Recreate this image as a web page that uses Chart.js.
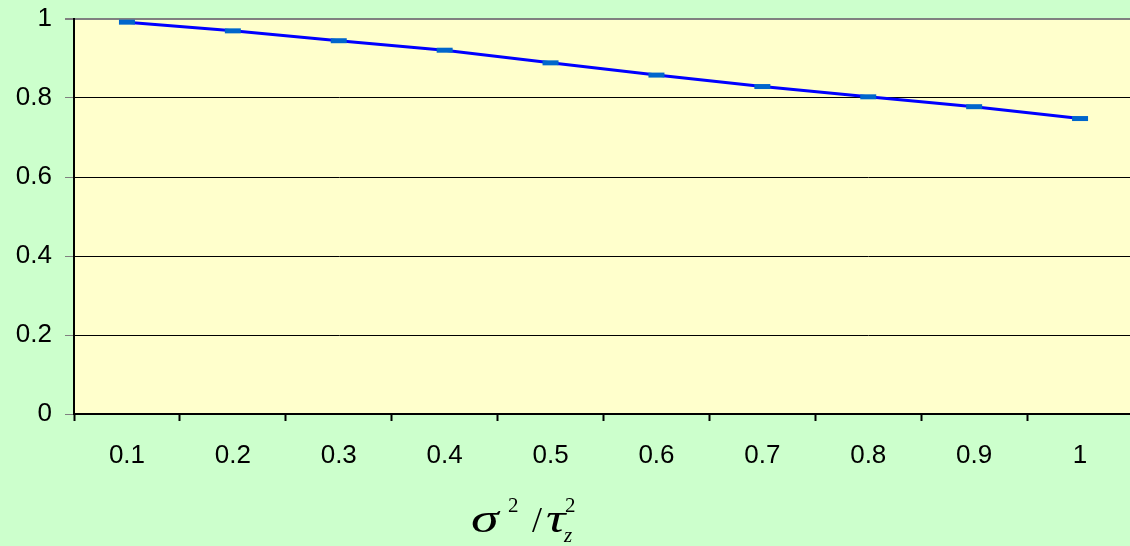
<!DOCTYPE html>
<html lang="en">
<head>
    <meta charset="UTF-8"/>
    <title>Ratio chart</title>
    <script src="https://cdn.jsdelivr.net/npm/chart.js"></script>
    <style>
        html, body {
            margin: 0;
            padding: 0;
            background-color: #CCFFCC;
            overflow: hidden;
            width: 1130px;
            height: 546px;
        }
        canvas#ratioChart {
            display: block;
        }
    </style>
</head>
<body>
<canvas id="ratioChart" width="1146" height="546"></canvas>

<script>
    // categories along the x axis (sigma^2 / tau_z^2)
    const categories = ['0.1', '0.2', '0.3', '0.4', '0.5', '0.6', '0.7', '0.8', '0.9', '1'];
    // values
    const seriesValues = [0.992, 0.970, 0.945, 0.921, 0.889, 0.858, 0.829, 0.803, 0.778, 0.748];
    const yTicks = [0, 0.2, 0.4, 0.6, 0.8, 1];

    // draws a glyph stretched sideways (the original uses a wide Symbol font)
    function wideGlyph(ctx, ch, x, y, sx) {
        ctx.save();
        ctx.translate(x, y);
        ctx.scale(sx, 1);
        ctx.fillText(ch, 0, 0);
        ctx.restore();
    }

    // plot area fill + axis title with super/subscripts
    const decorPlugin = {
        id: 'decor',
        beforeDraw(chart) {
            const { ctx, chartArea } = chart;
            ctx.save();
            ctx.fillStyle = '#FFFFCC';
            ctx.fillRect(chartArea.left, chartArea.top, chartArea.right - chartArea.left, chartArea.bottom - chartArea.top);
            ctx.restore();
        },
        afterDraw(chart) {
            const ctx = chart.ctx;
            const base = 532;
            const serif = '"Liberation Serif", "Times New Roman", serif';
            ctx.save();
            ctx.fillStyle = '#000';
            ctx.textBaseline = 'alphabetic';
            ctx.textAlign = 'left';
            ctx.font = 'italic 40px ' + serif;
            wideGlyph(ctx, '\u03C3', 471, base, 1.4);
            wideGlyph(ctx, '\u03C4', 546, base, 1.35);
            ctx.font = '36px ' + serif;
            ctx.fillText('/', 532, base);
            ctx.font = '21px ' + serif;
            ctx.fillText('2', 508, base - 20);
            ctx.fillText('2', 565, base - 20);
            ctx.font = 'italic 21px ' + serif;
            ctx.fillText('z', 564, base + 10);
            ctx.restore();
        }
    };

    const ctxRatio = document.getElementById('ratioChart').getContext('2d');

    const ratioChart = new Chart(ctxRatio, {
        type: 'line',
        data: {
            labels: categories,
            datasets: [{
                data: seriesValues,
                borderColor: '#0000FF',
                borderWidth: 3,
                tension: 0,
                pointStyle: 'line',
                pointRadius: 8,
                pointBorderWidth: 5,
                pointBorderColor: '#0066CC',
                pointBackgroundColor: '#0066CC'
            }]
        },
        options: {
            responsive: false,
            animation: false,
            devicePixelRatio: 1,
            layout: {
                padding: { left: 0, top: 19, right: 0, bottom: 0 }
            },
            plugins: {
                legend: { display: false },
                tooltip: { enabled: false }
            },
            scales: {
                x: {
                    offset: true,
                    grid: {
                        offset: true,
                        drawOnChartArea: false,
                        drawTicks: true,
                        tickLength: 7,
                        tickColor: '#000',
                        tickWidth: 2
                    },
                    border: { color: '#000', width: 2 },
                    ticks: {
                        color: '#000',
                        padding: 19,
                        maxRotation: 0,
                        autoSkip: false,
                        font: { family: '"Liberation Sans", Arial, sans-serif', size: 26 }
                    },
                    afterFit(scale) {
                        scale.height = 132;
                        scale.paddingLeft = 0;
                        scale.paddingRight = 0;
                    }
                },
                y: {
                    min: 0,
                    max: 1,
                    afterBuildTicks(scale) {
                        scale.ticks = yTicks.map(v => ({ value: v }));
                    },
                    grid: {
                        color: (c) => (c.tick && c.tick.value === 1 ? '#808080' : '#000'),
                        lineWidth: (c) => (c.tick && c.tick.value === 1 ? 2 : 1),
                        tickLength: 9,
                        tickColor: '#808080'
                    },
                    border: { color: '#000', width: 2 },
                    ticks: {
                        color: '#000',
                        padding: 13,
                        font: { family: '"Liberation Sans", Arial, sans-serif', size: 26 },
                        callback: (v) => String(Math.round(v * 10) / 10)
                    },
                    afterFit(scale) {
                        scale.width = 74;
                        scale.paddingTop = 0;
                        scale.paddingBottom = 0;
                    }
                }
            }
        },
        plugins: [decorPlugin]
    });
</script>
</body>
</html>
